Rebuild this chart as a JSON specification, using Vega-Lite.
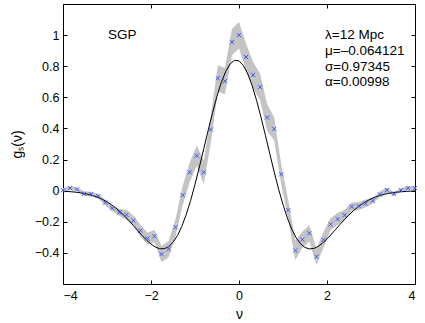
{
  "$schema": "https://vega.github.io/schema/vega-lite/v6.json",
  "width": 352,
  "height": 280,
  "autosize": {"type": "none"},
  "padding": {"left": 63, "top": 4, "right": 10, "bottom": 39},
  "background": "white",
  "config": {
    "view": {"stroke": "#000000", "strokeWidth": 1},
    "font": "Liberation Sans",
    "axis": {"grid": false, "domain": false, "tickColor": "#000000", "labelColor": "#000000", "titleColor": "#000000", "labelFont": "Liberation Sans", "titleFont": "Liberation Sans", "labelFontSize": 12.5, "titleFontSize": 14, "titleFontWeight": "normal", "tickSize": -4, "tickWidth": 1}
  },
  "datasets": {
    "pts": [
      {"nu": -4.00, "g": 0.003, "lo": -0.009, "hi": 0.015},
      {"nu": -3.84, "g": 0.016, "lo": 0.004, "hi": 0.028},
      {"nu": -3.68, "g": 0.008, "lo": -0.004, "hi": 0.020},
      {"nu": -3.52, "g": -0.020, "lo": -0.035, "hi": -0.005},
      {"nu": -3.36, "g": -0.022, "lo": -0.037, "hi": -0.007},
      {"nu": -3.20, "g": -0.035, "lo": -0.050, "hi": -0.020},
      {"nu": -3.04, "g": -0.076, "lo": -0.096, "hi": -0.056},
      {"nu": -2.88, "g": -0.112, "lo": -0.132, "hi": -0.092},
      {"nu": -2.72, "g": -0.140, "lo": -0.162, "hi": -0.118},
      {"nu": -2.56, "g": -0.155, "lo": -0.188, "hi": -0.122},
      {"nu": -2.40, "g": -0.193, "lo": -0.226, "hi": -0.160},
      {"nu": -2.24, "g": -0.257, "lo": -0.295, "hi": -0.219},
      {"nu": -2.08, "g": -0.308, "lo": -0.346, "hi": -0.270},
      {"nu": -1.92, "g": -0.293, "lo": -0.333, "hi": -0.253},
      {"nu": -1.76, "g": -0.408, "lo": -0.460, "hi": -0.356},
      {"nu": -1.60, "g": -0.376, "lo": -0.428, "hi": -0.324},
      {"nu": -1.44, "g": -0.235, "lo": -0.290, "hi": -0.180},
      {"nu": -1.28, "g": -0.029, "lo": -0.092, "hi": 0.034},
      {"nu": -1.12, "g": 0.118, "lo": 0.055, "hi": 0.181},
      {"nu": -0.96, "g": 0.225, "lo": 0.160, "hi": 0.290},
      {"nu": -0.80, "g": 0.118, "lo": 0.043, "hi": 0.193},
      {"nu": -0.64, "g": 0.393, "lo": 0.308, "hi": 0.478},
      {"nu": -0.48, "g": 0.723, "lo": 0.638, "hi": 0.808},
      {"nu": -0.32, "g": 0.704, "lo": 0.619, "hi": 0.789},
      {"nu": -0.16, "g": 0.955, "lo": 0.870, "hi": 1.040},
      {"nu": 0.00, "g": 1.000, "lo": 0.915, "hi": 1.085},
      {"nu": 0.16, "g": 0.859, "lo": 0.774, "hi": 0.944},
      {"nu": 0.32, "g": 0.744, "lo": 0.659, "hi": 0.829},
      {"nu": 0.48, "g": 0.666, "lo": 0.581, "hi": 0.751},
      {"nu": 0.64, "g": 0.470, "lo": 0.385, "hi": 0.555},
      {"nu": 0.80, "g": 0.397, "lo": 0.322, "hi": 0.472},
      {"nu": 0.96, "g": 0.105, "lo": 0.042, "hi": 0.168},
      {"nu": 1.12, "g": -0.125, "lo": -0.188, "hi": -0.062},
      {"nu": 1.28, "g": -0.385, "lo": -0.448, "hi": -0.322},
      {"nu": 1.44, "g": -0.314, "lo": -0.366, "hi": -0.262},
      {"nu": 1.60, "g": -0.274, "lo": -0.326, "hi": -0.222},
      {"nu": 1.76, "g": -0.425, "lo": -0.477, "hi": -0.373},
      {"nu": 1.92, "g": -0.316, "lo": -0.366, "hi": -0.266},
      {"nu": 2.08, "g": -0.216, "lo": -0.254, "hi": -0.178},
      {"nu": 2.24, "g": -0.182, "lo": -0.220, "hi": -0.144},
      {"nu": 2.40, "g": -0.157, "lo": -0.192, "hi": -0.122},
      {"nu": 2.56, "g": -0.103, "lo": -0.130, "hi": -0.076},
      {"nu": 2.72, "g": -0.099, "lo": -0.124, "hi": -0.074},
      {"nu": 2.88, "g": -0.082, "lo": -0.107, "hi": -0.057},
      {"nu": 3.04, "g": -0.065, "lo": -0.083, "hi": -0.047},
      {"nu": 3.20, "g": -0.024, "lo": -0.042, "hi": -0.006},
      {"nu": 3.36, "g": 0.003, "lo": -0.015, "hi": 0.021},
      {"nu": 3.52, "g": -0.020, "lo": -0.032, "hi": -0.008},
      {"nu": 3.68, "g": 0.003, "lo": -0.009, "hi": 0.015},
      {"nu": 3.84, "g": 0.016, "lo": 0.004, "hi": 0.028},
      {"nu": 4.00, "g": 0.016, "lo": 0.004, "hi": 0.028}
    ],
    "curve": [
      {"nu": -4.0, "g": -0.0036}, {"nu": -3.9, "g": -0.0052}, {"nu": -3.8, "g": -0.0073}, {"nu": -3.7, "g": -0.0102},
      {"nu": -3.6, "g": -0.0140}, {"nu": -3.5, "g": -0.0190}, {"nu": -3.4, "g": -0.0254}, {"nu": -3.3, "g": -0.0337},
      {"nu": -3.2, "g": -0.0439}, {"nu": -3.1, "g": -0.0566}, {"nu": -3.0, "g": -0.0720}, {"nu": -2.9, "g": -0.0903},
      {"nu": -2.8, "g": -0.1116}, {"nu": -2.7, "g": -0.1360}, {"nu": -2.6, "g": -0.1632}, {"nu": -2.5, "g": -0.1931},
      {"nu": -2.4, "g": -0.2246}, {"nu": -2.3, "g": -0.2568}, {"nu": -2.2, "g": -0.2885}, {"nu": -2.1, "g": -0.3181},
      {"nu": -2.0, "g": -0.3435}, {"nu": -1.9, "g": -0.3628}, {"nu": -1.8, "g": -0.3735}, {"nu": -1.7, "g": -0.3733},
      {"nu": -1.6, "g": -0.3604}, {"nu": -1.5, "g": -0.3328}, {"nu": -1.4, "g": -0.2894}, {"nu": -1.3, "g": -0.2296},
      {"nu": -1.2, "g": -0.1539}, {"nu": -1.1, "g": -0.0633}, {"nu": -1.0, "g": 0.0400}, {"nu": -0.9, "g": 0.1525},
      {"nu": -0.8, "g": 0.2704}, {"nu": -0.7, "g": 0.3889}, {"nu": -0.6, "g": 0.5030}, {"nu": -0.5, "g": 0.6074},
      {"nu": -0.4, "g": 0.6972}, {"nu": -0.3, "g": 0.7677}, {"nu": -0.2, "g": 0.8156}, {"nu": -0.1, "g": 0.8383},
      {"nu": 0.0, "g": 0.8346}, {"nu": 0.1, "g": 0.8047}, {"nu": 0.2, "g": 0.7501}, {"nu": 0.3, "g": 0.6738},
      {"nu": 0.4, "g": 0.5794}, {"nu": 0.5, "g": 0.4718}, {"nu": 0.6, "g": 0.3559}, {"nu": 0.7, "g": 0.2371},
      {"nu": 0.8, "g": 0.1202}, {"nu": 0.9, "g": 0.0099}, {"nu": 1.0, "g": -0.0900}, {"nu": 1.1, "g": -0.1766},
      {"nu": 1.2, "g": -0.2481}, {"nu": 1.3, "g": -0.3032}, {"nu": 1.4, "g": -0.3421}, {"nu": 1.5, "g": -0.3654},
      {"nu": 1.6, "g": -0.3746}, {"nu": 1.7, "g": -0.3714}, {"nu": 1.8, "g": -0.3582}, {"nu": 1.9, "g": -0.3369},
      {"nu": 2.0, "g": -0.3102}, {"nu": 2.1, "g": -0.2798}, {"nu": 2.2, "g": -0.2478}, {"nu": 2.3, "g": -0.2156},
      {"nu": 2.4, "g": -0.1844}, {"nu": 2.5, "g": -0.1554}, {"nu": 2.6, "g": -0.1289}, {"nu": 2.7, "g": -0.1053},
      {"nu": 2.8, "g": -0.0848}, {"nu": 2.9, "g": -0.0674}, {"nu": 3.0, "g": -0.0528}, {"nu": 3.1, "g": -0.0408},
      {"nu": 3.2, "g": -0.0312}, {"nu": 3.3, "g": -0.0235}, {"nu": 3.4, "g": -0.0174}, {"nu": 3.5, "g": -0.0128},
      {"nu": 3.6, "g": -0.0093}, {"nu": 3.7, "g": -0.0066}, {"nu": 3.8, "g": -0.0047}, {"nu": 3.9, "g": -0.0033},
      {"nu": 4.0, "g": -0.0023}
    ],
    "labels": [
      {"nu": -2.98, "g": 1.0, "t": "SGP"},
      {"nu": 1.955, "g": 1.0, "t": "λ=12 Mpc"},
      {"nu": 1.955, "g": 0.899, "t": "μ=–0.064121"},
      {"nu": 1.955, "g": 0.798, "t": "σ=0.97345"},
      {"nu": 1.955, "g": 0.698, "t": "α=0.00998"}
    ]
  },
  "layer": [
    {
      "data": {"name": "pts"},
      "mark": {"type": "area", "color": "#c4c4c4", "opacity": 1},
      "encoding": {
        "x": {"field": "nu", "type": "quantitative", "scale": {"domain": [-4, 4], "nice": false, "zero": false},
              "axis": {"orient": "bottom", "values": [-4, -2, 0, 2, 4], "format": "~g", "title": "ν", "labelPadding": 9, "titlePadding": 6}},
        "y": {"field": "lo", "type": "quantitative", "scale": {"domain": [-0.6, 1.2], "nice": false, "zero": false},
              "axis": {"orient": "left", "values": [-0.4, -0.2, 0, 0.2, 0.4, 0.6, 0.8, 1], "format": ".1~f", "title": "gₛ(ν)", "labelPadding": 8, "titlePadding": 10}},
        "y2": {"field": "hi"}
      }
    },
    {
      "data": {"name": "curve"},
      "mark": {"type": "line", "color": "#000000", "strokeWidth": 1},
      "encoding": {
        "x": {"field": "nu", "type": "quantitative", "axis": {"orient": "top", "values": [-4, -2, 0, 2, 4], "labels": false, "title": null}},
        "y": {"field": "g", "type": "quantitative", "axis": {"orient": "right", "values": [-0.4, -0.2, 0, 0.2, 0.4, 0.6, 0.8, 1], "labels": false, "title": null}}
      }
    },
    {
      "data": {"name": "pts"},
      "mark": {"type": "point", "shape": "M-1,-1L1,1M-1,1L1,-1", "filled": false, "stroke": "#3a55ff", "strokeWidth": 1, "size": 18, "opacity": 1},
      "encoding": {
        "x": {"field": "nu", "type": "quantitative", "axis": null},
        "y": {"field": "g", "type": "quantitative", "axis": null}
      }
    },
    {
      "data": {"name": "labels"},
      "mark": {"type": "text", "align": "left", "baseline": "middle", "fontSize": 13.5, "font": "Liberation Sans", "color": "#000000"},
      "encoding": {
        "x": {"field": "nu", "type": "quantitative", "axis": null},
        "y": {"field": "g", "type": "quantitative", "axis": null},
        "text": {"field": "t", "type": "nominal"}
      }
    }
  ],
  "resolve": {"axis": {"x": "independent", "y": "independent"}}
}
